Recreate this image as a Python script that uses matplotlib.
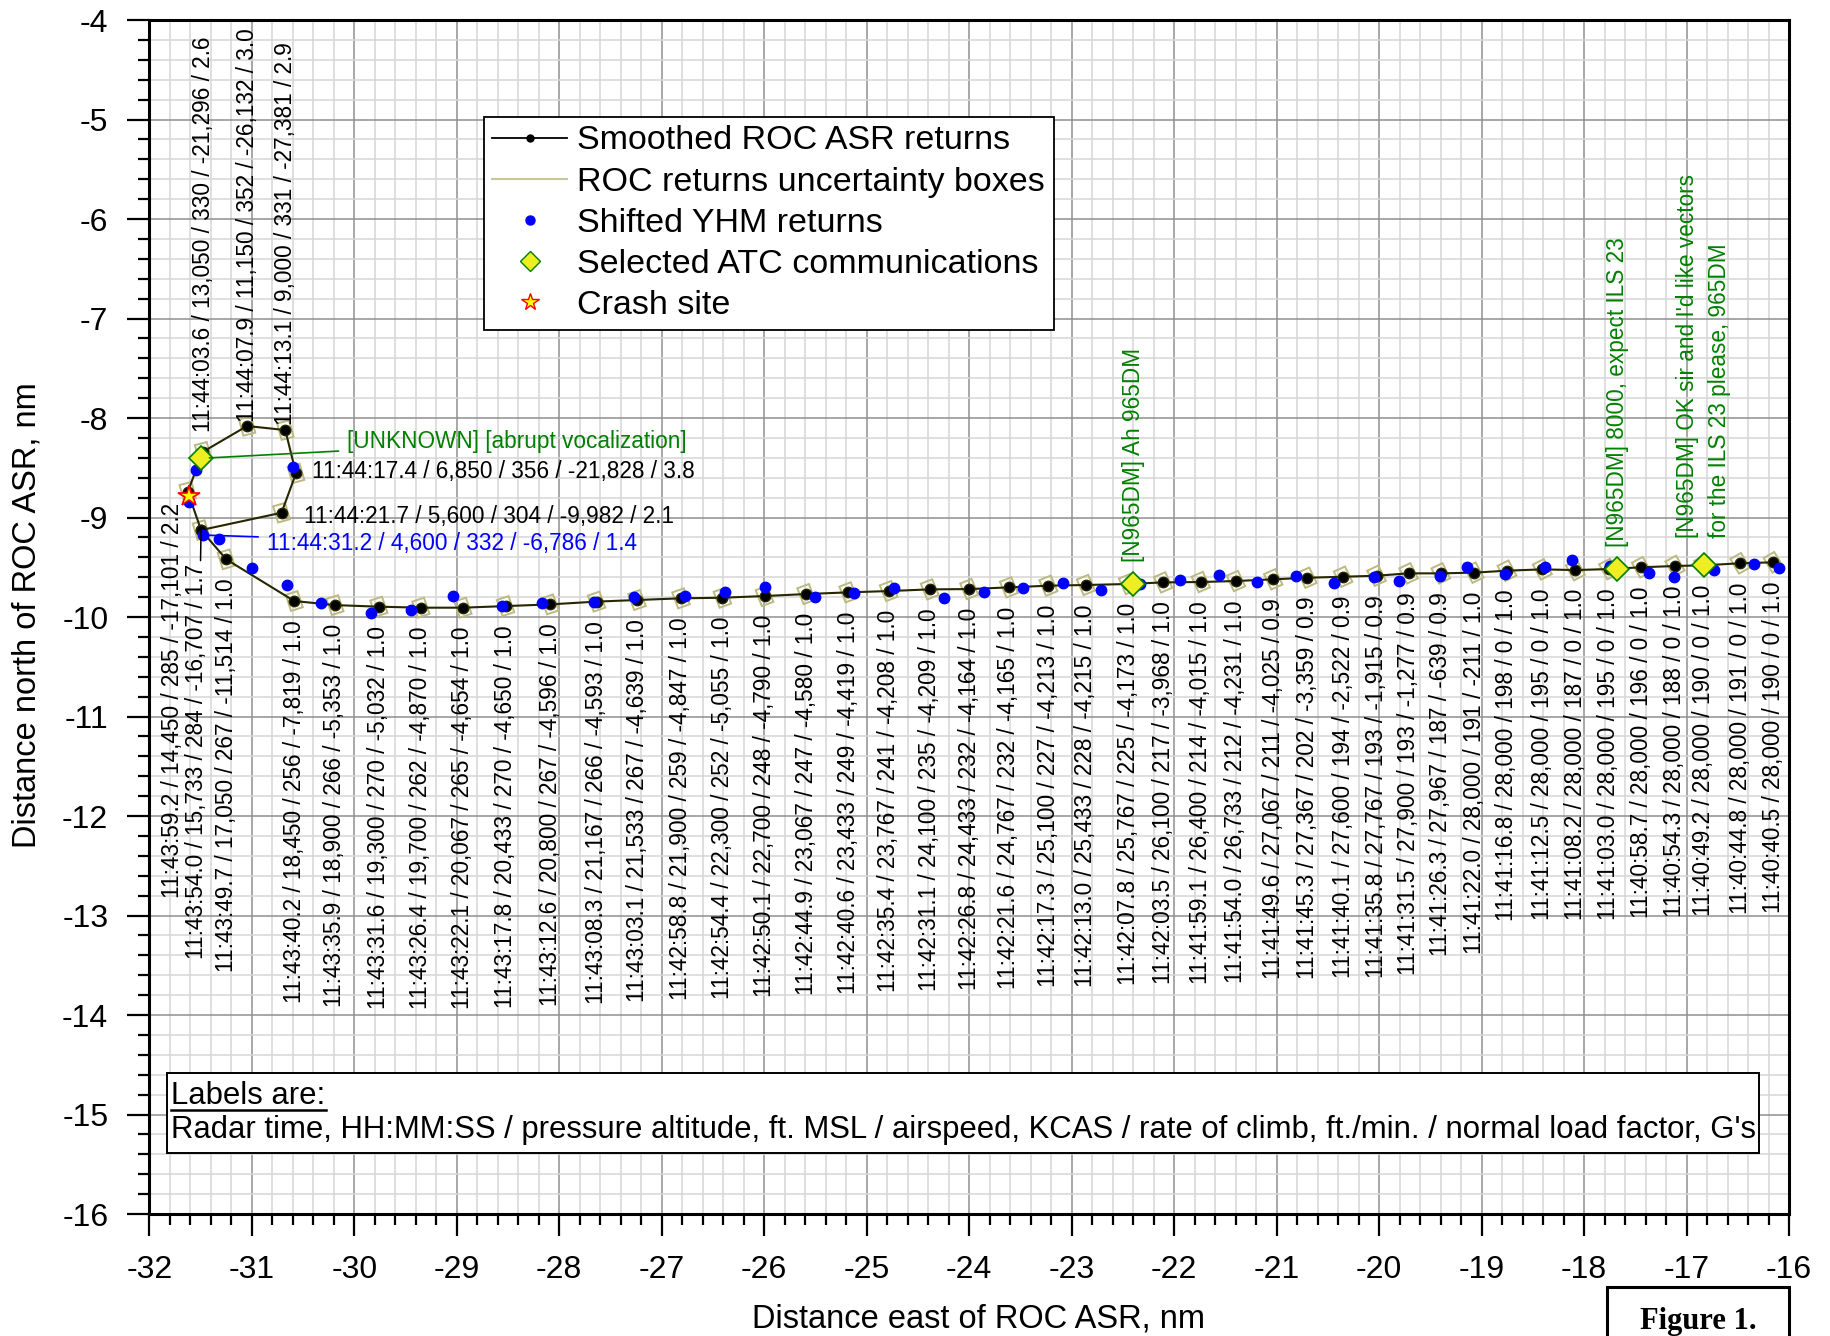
import numpy as np
import matplotlib.pyplot as plt
from matplotlib.patches import Rectangle
from matplotlib.lines import Line2D
from matplotlib.ticker import MultipleLocator

plt.rcParams['font.family'] = ['Liberation Sans', 'DejaVu Sans']
plt.rcParams['axes.unicode_minus'] = False

# smoothed ROC ASR returns, oldest first
roc_time = ["11:40:40.5", "11:40:44.8", "11:40:49.2", "11:40:54.3", "11:40:58.7",
            "11:41:03.0", "11:41:08.2", "11:41:12.5", "11:41:16.8", "11:41:22.0",
            "11:41:26.3", "11:41:31.5", "11:41:35.8", "11:41:40.1", "11:41:45.3",
            "11:41:49.6", "11:41:54.0", "11:41:59.1", "11:42:03.5", "11:42:07.8",
            "11:42:13.0", "11:42:17.3", "11:42:21.6", "11:42:26.8", "11:42:31.1",
            "11:42:35.4", "11:42:40.6", "11:42:44.9", "11:42:50.1", "11:42:54.4",
            "11:42:58.8", "11:43:03.1", "11:43:08.3", "11:43:12.6", "11:43:17.8",
            "11:43:22.1", "11:43:26.4", "11:43:31.6", "11:43:35.9", "11:43:40.2",
            "11:43:49.7", "11:43:54.0", "11:43:59.2", "11:44:03.6", "11:44:07.9",
            "11:44:13.1", "11:44:17.4", "11:44:21.7"]
roc_alt = [28000, 28000, 28000, 28000, 28000, 28000, 28000, 28000, 28000, 28000,
           27967, 27900, 27767, 27600, 27367, 27067, 26733, 26400, 26100, 25767,
           25433, 25100, 24767, 24433, 24100, 23767, 23433, 23067, 22700, 22300,
           21900, 21533, 21167, 20800, 20433, 20067, 19700, 19300, 18900, 18450,
           17050, 15733, 14450, 13050, 11150, 9000, 6850, 5600]
roc_kcas = [190, 191, 190, 188, 196, 195, 187, 195, 198, 191,
            187, 193, 193, 194, 202, 211, 212, 214, 217, 225,
            228, 227, 232, 232, 235, 241, 249, 247, 248, 252,
            259, 267, 266, 267, 270, 265, 262, 270, 266, 256,
            267, 284, 285, 330, 352, 331, 356, 304]
roc_climb = [0, 0, 0, 0, 0, 0, 0, 0, 0, -211,
             -639, -1277, -1915, -2522, -3359, -4025, -4231, -4015, -3968, -4173,
             -4215, -4213, -4165, -4164, -4209, -4208, -4419, -4580, -4790, -5055,
             -4847, -4639, -4593, -4596, -4650, -4654, -4870, -5032, -5353, -7819,
             -11514, -16707, -17101, -21296, -26132, -27381, -21828, -9982]
roc_g = [1.0, 1.0, 1.0, 1.0, 1.0, 1.0, 1.0, 1.0, 1.0, 1.0,
         0.9, 0.9, 0.9, 0.9, 0.9, 0.9, 1.0, 1.0, 1.0, 1.0,
         1.0, 1.0, 1.0, 1.0, 1.0, 1.0, 1.0, 1.0, 1.0, 1.0,
         1.0, 1.0, 1.0, 1.0, 1.0, 1.0, 1.0, 1.0, 1.0, 1.0,
         1.0, 1.7, 2.2, 2.6, 3.0, 2.9, 3.8, 2.1]
# track positions, nm from ROC ASR (last point closes the track, no label)
roc_x = [-16.153, -16.478, -16.83, -17.113, -17.44, -17.76, -18.085, -18.407, -18.752, -19.073,
         -19.398, -19.712, -20.025, -20.351, -20.70, -21.033, -21.397, -21.74, -22.107, -22.45,
         -22.861, -23.227, -23.612, -24.0, -24.385, -24.785, -25.18, -25.59, -25.997, -26.408,
         -26.812, -27.241, -27.636, -28.09, -28.524, -28.94, -29.35, -29.76, -30.189, -30.586,
         -31.25, -31.495, -31.625, -31.476, -31.046, -30.673, -30.569, -30.71, -31.495]
roc_y = [-9.45, -9.46, -9.48, -9.487, -9.50, -9.518, -9.528, -9.521, -9.534, -9.554,
         -9.561, -9.561, -9.585, -9.595, -9.605, -9.621, -9.638, -9.648, -9.652, -9.668,
         -9.678, -9.685, -9.702, -9.719, -9.722, -9.739, -9.752, -9.769, -9.789, -9.806,
         -9.812, -9.829, -9.845, -9.873, -9.89, -9.906, -9.906, -9.896, -9.88, -9.839,
         -9.42, -9.126, -8.74, -8.339, -8.08, -8.121, -8.556, -8.952, -9.126]

# shifted YHM returns
yhm_x = [-16.095, -16.341, -16.733, -17.123, -17.371, -17.75, -18.113, -18.38, -18.772, -19.143,
         -19.41, -19.81, -20.045, -20.437, -20.81, -21.19, -21.566, -21.946, -22.33, -22.716,
         -23.085, -23.477, -23.855, -24.243, -24.73, -25.12, -25.505, -25.997, -26.382, -26.774,
         -27.27, -27.66, -28.167, -28.563, -29.041, -29.448, -29.84, -30.326, -30.66, -31.002,
         -31.318, -31.48, -31.61, -31.54, -30.598]
yhm_y = [-9.51, -9.464, -9.528, -9.595, -9.554, -9.487, -9.427, -9.50, -9.568, -9.50,
         -9.588, -9.638, -9.595, -9.655, -9.588, -9.645, -9.575, -9.628, -9.672, -9.729,
         -9.662, -9.712, -9.752, -9.806, -9.712, -9.755, -9.796, -9.695, -9.745, -9.789,
         -9.796, -9.846, -9.856, -9.89, -9.789, -9.93, -9.963, -9.863, -9.68, -9.504,
         -9.219, -9.176, -8.84, -8.523, -8.49]
# last YHM return carries its own label
yhm_last = ("11:44:31.2", 4600, 332, -6786, 1.4)
yhm_last_idx = 41

# selected ATC communications
atc_x = [-31.495, -22.40, -17.674, -16.83]
atc_y = [-8.405, -9.664, -9.518, -9.48]
atc_text = ["[UNKNOWN] [abrupt vocalization]",
            "[N965DM] Ah 965DM",
            "[N965DM] 8000, expect ILS 23",
            "[N965DM] OK sir and I'd like vectors\nfor the ILS 23 please, 965DM"]

crash_x, crash_y = -31.613, -8.78

# radar return uncertainty, nm (range x azimuth)
box_range = 0.12
box_azim = 0.17

# label placement: (side, dx, dy) in points; everything else hangs below its point
label_place = {
    "11:43:54.0": ("below", -3, -24),
    "11:43:59.2": ("below", -11, -8),
    "11:44:03.6": ("above", 0, 14),
    "11:44:07.9": ("above", 0, 3),
    "11:44:13.1": ("above", 0, 3.6),
    "11:44:17.4": ("right", 11.8, 1.3),
    "11:44:21.7": ("right", 16, -2.4),
}

LABEL_FS = 16.3


def fmt_label(t, alt, kcas, climb, g):
    return f"{t} / {alt:,} / {kcas} / {climb:,} / {g:.1f}"


fig = plt.figure(figsize=(18.3, 13.36), dpi=100)
ax = fig.add_axes([0.0816, 0.0913, 0.8960, 0.8937])
ax.set_xlim(-32, -16)
ax.set_ylim(-16, -4)

ax.xaxis.set_major_locator(MultipleLocator(1))
ax.xaxis.set_minor_locator(MultipleLocator(0.2))
ax.yaxis.set_major_locator(MultipleLocator(1))
ax.yaxis.set_minor_locator(MultipleLocator(0.2))
ax.grid(which='major', color='#8f8f8f', lw=1.1)
ax.grid(which='minor', color='#d6d6d6', lw=1.1)
ax.set_axisbelow(True)
ax.tick_params(which='major', direction='out', length=16, width=1.6, pad=13.5,
               labelsize=23, color='black')
ax.tick_params(which='minor', direction='out', length=8, width=1.6, color='black')
for sp in ax.spines.values():
    sp.set_linewidth(2.2)

# uncertainty boxes aligned with the radar bearing
for x, y in zip(roc_x[:-1], roc_y[:-1]):
    ang = np.degrees(np.arctan2(y, x))
    ax.add_patch(Rectangle((x - box_range / 2, y - box_azim / 2), box_range, box_azim,
                           angle=ang, rotation_point='center', fill=False,
                           ec='#bcb981', lw=1.4, zorder=2))

ax.plot(roc_x, roc_y, color='#262600', lw=1.5, zorder=3)
ax.plot(roc_x, roc_y, ls='none', marker='o', ms=7.5, mfc='black', mec='#262600', zorder=4)
ax.plot(yhm_x, yhm_y, ls='none', marker='o', ms=7.5, color='blue', zorder=5)
ax.plot(atc_x, atc_y, ls='none', marker='D', ms=12, mfc='#eeee22', mec='green',
        mew=1.2, zorder=6)
ax.plot([crash_x], [crash_y], ls='none', marker='*', ms=16, mfc='yellow', mec='red',
        mew=1.2, zorder=7)

# data labels on the ROC track
for i, t in enumerate(roc_time):
    txt = fmt_label(t, roc_alt[i], roc_kcas[i], roc_climb[i], roc_g[i])
    side, dx, dy = label_place.get(t, ("below", 0, -13.7))
    kw = dict(xy=(roc_x[i], roc_y[i]), xytext=(dx, dy), textcoords='offset points',
              fontsize=LABEL_FS, color='black', zorder=8)
    if side == "below":
        kw.update(rotation=90, ha='center', va='top')
    elif side == "above":
        kw.update(rotation=90, ha='center', va='bottom')
    else:
        kw.update(rotation=0, ha='left', va='center')
    if t == "11:43:54.0":
        kw['arrowprops'] = dict(arrowstyle='-', color='black', lw=1.1,
                                shrinkA=0, shrinkB=0)
    ax.annotate(txt, **kw)

ax.annotate(fmt_label(*yhm_last), xy=(yhm_x[yhm_last_idx], yhm_y[yhm_last_idx]),
            xytext=(46, -5.8), textcoords='offset points', fontsize=LABEL_FS, color='blue',
            ha='left', va='center', zorder=8,
            arrowprops=dict(arrowstyle='-', color='blue', lw=1.2, shrinkA=4, shrinkB=0))

# ATC communication call-outs
ax.annotate(atc_text[0], xy=(atc_x[0], atc_y[0]), xytext=(105, 12),
            textcoords='offset points', fontsize=LABEL_FS, color='green', ha='left',
            va='center', zorder=8,
            arrowprops=dict(arrowstyle='-', color='green', lw=1.2, shrinkA=4, shrinkB=6))
atc_dy = [0, 15.5, 16, 20]
for i in range(1, len(atc_text)):
    ax.annotate(atc_text[i], xy=(atc_x[i], atc_y[i]), xytext=(0, atc_dy[i]),
                textcoords='offset points', fontsize=LABEL_FS, color='green', rotation=90,
                ha='center', va='bottom', multialignment='left', linespacing=1.5,
                zorder=8)

# legend
handles = [
    Line2D([], [], color='black', lw=1.3, marker='o', ms=5),
    Line2D([], [], color='#c9c79a', lw=1.5),
    Line2D([], [], ls='none', marker='o', ms=6.5, color='blue'),
    Line2D([], [], ls='none', marker='D', ms=10, mfc='#eeee22', mec='green'),
    Line2D([], [], ls='none', marker='*', ms=13, mfc='yellow', mec='red'),
]
names = ["Smoothed ROC ASR returns", "ROC returns uncertainty boxes",
         "Shifted YHM returns", "Selected ATC communications", "Crash site"]
leg = ax.legend(handles, names, loc='upper left', bbox_to_anchor=(0.204, 0.9188),
                fontsize=24.5, frameon=True, fancybox=False, edgecolor='black',
                framealpha=1, borderpad=0.25, labelspacing=0.3, handlelength=2.2,
                handletextpad=0.3, borderaxespad=0)
leg.get_frame().set_linewidth(1.3)
leg.set_zorder(10)

# key to the label fields
ax.add_patch(Rectangle((-31.83, -15.39), 15.54, 0.81, fc='white', ec='black',
                       lw=1.4, zorder=9))
key_title = ax.text(-31.784, -14.894, "Labels are:", fontsize=22.4, ha='left',
                    va='baseline', zorder=10)
ax.text(-31.784, -15.156, "Radar time, HH:MM:SS / pressure altitude, ft. MSL / airspeed, "
        "KCAS / rate of climb, ft./min. / normal load factor, G's",
        fontsize=22.4, ha='left', va='center', zorder=10)
fig.canvas.draw()
bb = key_title.get_window_extent().transformed(ax.transData.inverted())
ax.plot([bb.x0, bb.x1], [-14.95, -14.95], color='black', lw=1.8, zorder=10)

# axis titles
fig.text(978 / 1830, 0.0127, "Distance east of ROC ASR, nm", fontsize=23.5,
         ha='center', va='center')
fig.text(27 / 1830, 0.5397, "Distance north of ROC ASR, nm", fontsize=23.5,
         rotation=90, ha='center', va='center')

# figure tag
fig.add_artist(Rectangle((0.878, -0.05), 0.0995, 0.0867, transform=fig.transFigure,
                         fill=False, ec='black', lw=2.2))
fig.text(1698 / 1830, 0.0107, "Figure 1.", fontsize=22, fontweight='bold',
         family=['Liberation Serif', 'DejaVu Serif'], ha='center', va='center')

fig.savefig('out.png', dpi=100)
